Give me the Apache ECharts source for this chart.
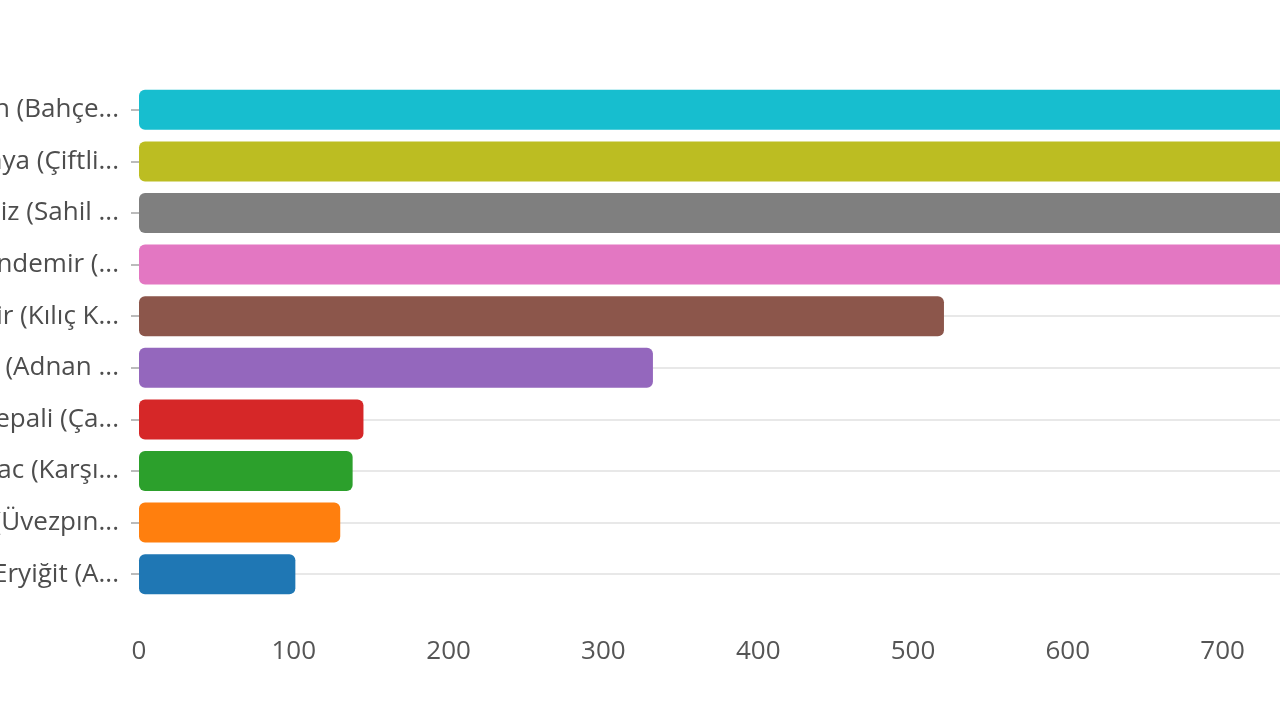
<!DOCTYPE html>
<html>
<head>
<meta charset="utf-8">
<script src="https://cdn.jsdelivr.net/npm/echarts@6/dist/echarts.min.js"></script>
<style>
html,body{margin:0;padding:0;background:#fff;}
#chart{width:1280px;height:720px;}
</style>
</head>
<body>
<div id="chart"></div>
<script>
// Categories listed bottom to top (ECharts category y-axis order)
const categories = [
  "Fatma Nur Eryiğit (Akdere Mahallesi)",
  "Ayşe Yılmaz (Üvezpınar Köyü)",
  "Gülşen Kırbac (Karşıyaka Mahallesi)",
  "Hasan Ali Tepali (Çamlıca Mahallesi)",
  "Zeynep Aslan (Adnan Menderes Mahallesi)",
  "Burak Demir (Kılıç Köyü)",
  "Mustafa Kalendemir (Yeni Mahalle)",
  "Gökhan Deniz (Sahil Mahallesi)",
  "Zehra Akkaya (Çiftlik Mahallesi)",
  "Mehmet Arslan (Bahçelievler Mahallesi)"
];
const values = [101, 130, 138, 145, 332, 520, 760, 820, 880, 940];
const xTicks = { min: 0, max: 1000, interval: 100 };

const palette = ["#1f77b4","#ff7f0e","#2ca02c","#d62728","#9467bd",
                 "#8c564b","#e377c2","#7f7f7f","#bcbd22","#17becf"];

const maxLabelChars = 20;

const chart = echarts.init(document.getElementById('chart'), null, {renderer: 'canvas'});
const plotLeft = 139;
const pxPerUnit = 1.548;
const plotWidth = (xTicks.max - xTicks.min) * pxPerUnit;

chart.setOption({
  backgroundColor: '#fff',
  animation: false,
  color: palette,
  textStyle: { fontFamily: 'Open Sans' },
  grid: {
    left: plotLeft,
    right: 1280 - plotLeft - plotWidth,
    top: 84,
    bottom: 120,
    containLabel: false,
    outerBoundsMode: 'none'
  },
  xAxis: {
    type: 'value',
    min: xTicks.min,
    max: xTicks.max,
    interval: xTicks.interval,
    axisLine: { show: false },
    axisTick: { show: false },
    splitLine: { show: false },
    axisLabel: { fontSize: 26, color: '#555', margin: 39, fontFamily: 'Open Sans' }
  },
  yAxis: {
    type: 'category',
    data: categories,
    axisLine: { show: false },
    axisTick: { show: true, alignWithLabel: true, length: 8, lineStyle: { color: '#bbb', width: 2 } },
    splitLine: { show: true, alignWithLabel: true, lineStyle: { color: '#e8e8e8', width: 2 } },
    axisLabel: {
      fontSize: 26, color: '#4d4d4d', margin: 20, fontFamily: 'Open Sans',
      formatter: function (v) {
        return v.length > maxLabelChars ? v.slice(0, maxLabelChars) + '...' : v;
      }
    }
  },
  series: [{
    type: 'bar',
    data: values,
    colorBy: 'data',
    barWidth: 40,
    itemStyle: { borderRadius: 6 }
  }]
});
</script>
</body>
</html>
